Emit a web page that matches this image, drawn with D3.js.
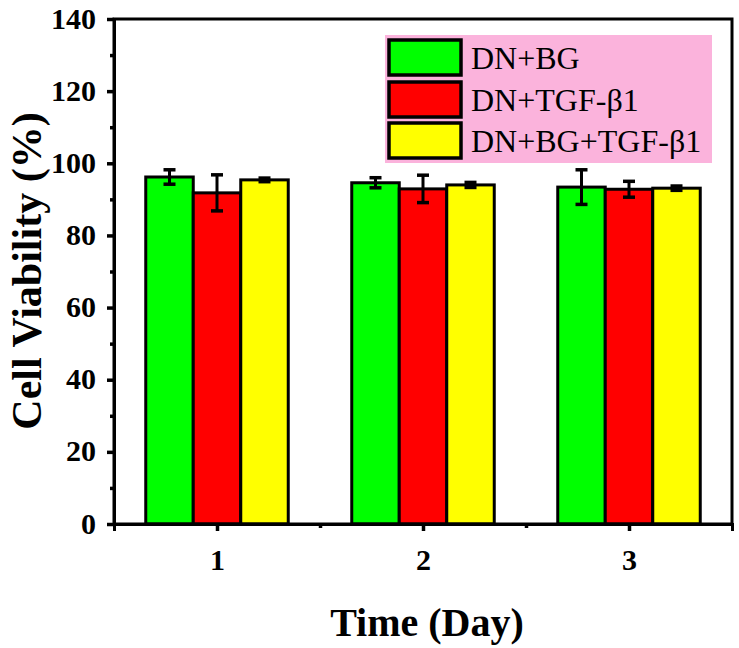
<!DOCTYPE html>
<html><head><meta charset="utf-8">
<script src="https://cdn.jsdelivr.net/npm/d3@7"></script>
<style>body{margin:0;background:#fff}text{font-family:"Liberation Serif","Times New Roman",serif}</style>
</head><body><svg id="c" width="739" height="648"></svg>
<script>
const days = ["1","2","3"];
const seriesNames = ["DN+BG","DN+TGF-β1","DN+BG+TGF-β1"];
const seriesColors = ["#00ff00","#ff0000","#ffff00"];
const meanDNBG = [96.2, 94.6, 93.4];
const errDNBG = [2.0, 1.4, 4.8];
const meanDNTGF = [91.8, 92.9, 92.8];
const errDNTGF = [5.0, 3.8, 2.2];
const meanAll = [95.4, 94.0, 93.1];
const errAll = [0.5, 0.7, 0.6];
const yTicks = [0,20,40,60,80,100,120,140];

const means = [meanDNBG, meanDNTGF, meanAll];
const errs = [errDNBG, errDNTGF, errAll];

const svg = d3.select("#c");
const L = 114, R = 732, T = 19, B = 524;
const x = d3.scaleLinear().domain([0.5, 3.5]).range([L, R]);
const y = d3.scaleLinear().domain([0, 140]).range([B, T]);
const bw = 47.5;

seriesNames.forEach((s, si) => {
  const g = svg.append("g");
  days.forEach((d, di) => {
    const cx = x(di + 1) + (si - 1) * bw;
    g.append("rect").attr("x", cx - bw/2).attr("y", y(means[si][di]))
      .attr("width", bw).attr("height", y(0) - y(means[si][di]))
      .attr("fill", seriesColors[si]).attr("stroke", "#000").attr("stroke-width", 3);
  });
});
seriesNames.forEach((s, si) => {
  days.forEach((d, di) => {
    const cx = x(di + 1) + (si - 1) * bw;
    const m = means[si][di], e = errs[si][di];
    svg.append("line").attr("x1", cx).attr("x2", cx).attr("y1", y(m + e)).attr("y2", y(m - e))
      .attr("stroke", "#000").attr("stroke-width", 3);
    [m + e, m - e].forEach(v => svg.append("line").attr("x1", cx - 6).attr("x2", cx + 6)
      .attr("y1", y(v)).attr("y2", y(v)).attr("stroke", "#000").attr("stroke-width", 3.5));
  });
});

svg.append("rect").attr("x", L).attr("y", T).attr("width", R - L).attr("height", B - T)
  .attr("fill", "none").attr("stroke", "#000").attr("stroke-width", 3);

const ya = svg.append("g").attr("transform", `translate(${L},0)`)
  .call(d3.axisLeft(y).tickValues(yTicks).tickSize(7).tickPadding(11));
ya.select(".domain").attr("stroke-width", 3);
ya.selectAll(".tick line").attr("stroke-width", 3.5);
ya.selectAll("text").attr("font-size", 30).attr("font-weight", "bold")
  .attr("font-family", "Liberation Serif").attr("fill", "#000").attr("dy", "0.3em");
const yMinor = svg.append("g").attr("transform", `translate(${L},0)`)
  .call(d3.axisLeft(y).tickValues(d3.range(10, 140, 20)).tickSize(4).tickFormat(""));
yMinor.select(".domain").remove();
yMinor.selectAll(".tick line").attr("stroke-width", 3.5);

const xa = svg.append("g").attr("transform", `translate(0,${B})`)
  .call(d3.axisBottom(x).tickValues([1,2,3]).tickFormat((d,i) => days[i]).tickSize(7).tickPadding(0));
xa.select(".domain").attr("stroke-width", 3);
xa.selectAll(".tick line").attr("stroke-width", 3.5);
xa.selectAll("text").attr("font-size", 30).attr("font-weight", "bold")
  .attr("font-family", "Liberation Serif").attr("fill", "#000").attr("y", 46).attr("dy", 0);
const xMinor = svg.append("g").attr("transform", `translate(0,${B})`)
  .call(d3.axisBottom(x).tickValues([1.5, 2.5]).tickSize(4).tickFormat(""));
xMinor.select(".domain").remove();
xMinor.selectAll(".tick line").attr("stroke-width", 3.5);

svg.append("text").attr("x", 427).attr("y", 636).attr("text-anchor", "middle")
  .attr("font-size", 40).attr("font-weight", "bold").text("Time (Day)");
svg.append("text").attr("transform", "translate(41,271) rotate(-90)").attr("text-anchor", "middle")
  .attr("font-size", 42).attr("font-weight", "bold").text("Cell Viability (%)");

const lg = svg.append("g");
lg.append("rect").attr("x", 385).attr("y", 35).attr("width", 327).attr("height", 128).attr("fill", "#fbb3dc");
const rowY = [40, 82, 123];
seriesNames.forEach((s, i) => {
  lg.append("rect").attr("x", 389).attr("y", rowY[i]).attr("width", 72).attr("height", 35)
    .attr("fill", seriesColors[i]).attr("stroke", "#000").attr("stroke-width", 3.5);
  lg.append("text").attr("x", 471).attr("y", rowY[i] + 29).attr("font-size", 32).attr("fill", "#000").text(s);
});
</script></body></html>
